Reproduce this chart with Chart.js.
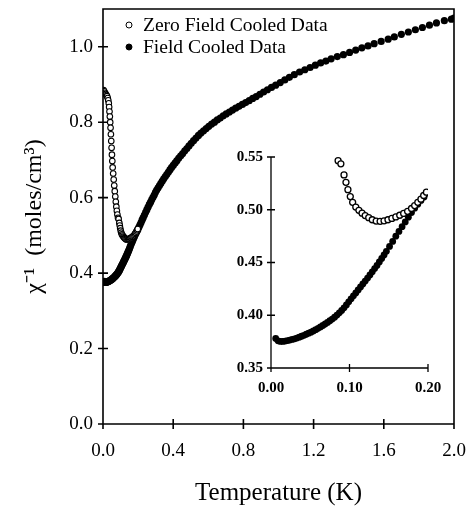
<!DOCTYPE html>
<html lang="en">
  <head>
    <meta charset="UTF-8" />
    <title>Inverse susceptibility vs temperature</title>
    <script src="https://cdn.jsdelivr.net/npm/chart.js"></script>
    <style>
      body { margin: 0; background: #fff; }
      #wrap { position: relative; width: 468px; height: 506px; }
      #mainChart { position: absolute; left: 0; top: 0; }
      #insetChart { position: absolute; left: 200px; top: 140px; }
    </style>
  </head>
  <body>
    <div id="wrap">
      <canvas id="mainChart" width="468" height="506"></canvas>
      <canvas id="insetChart" width="256" height="260"></canvas>
    </div>
    <script>
      const seriesLabels = ["Zero Field Cooled Data", "Field Cooled Data"];

      // [T (K), 1/chi]
      const zeroFieldCooled = [
        [0.003, 0.885], [0.007, 0.882], [0.011, 0.878], [0.015, 0.875], [0.019, 0.872],
        [0.023, 0.869], [0.027, 0.864], [0.030, 0.858], [0.033, 0.850], [0.035, 0.840],
        [0.037, 0.828], [0.039, 0.815], [0.041, 0.800], [0.043, 0.785], [0.045, 0.768],
        [0.047, 0.750], [0.049, 0.732], [0.051, 0.714], [0.053, 0.697], [0.055, 0.680],
        [0.058, 0.664], [0.061, 0.648], [0.064, 0.632], [0.067, 0.617], [0.070, 0.603],
        [0.073, 0.589], [0.076, 0.576], [0.079, 0.565], [0.082, 0.555], [0.0855, 0.5465],
        [0.089, 0.5435], [0.093, 0.533], [0.0955, 0.526], [0.098, 0.519], [0.101, 0.5125],
        [0.104, 0.507], [0.108, 0.5025], [0.112, 0.4995], [0.116, 0.4968], [0.120, 0.4945],
        [0.1245, 0.4925], [0.129, 0.4905], [0.134, 0.4893], [0.139, 0.489], [0.144, 0.4895],
        [0.149, 0.4905], [0.154, 0.4918], [0.159, 0.4932], [0.164, 0.4948], [0.169, 0.4965],
        [0.174, 0.4985], [0.179, 0.5012], [0.183, 0.504], [0.187, 0.507], [0.191, 0.51],
        [0.1945, 0.5135], [0.198, 0.5167]
      ];

      const fieldCooled = [
        [0.006, 0.378], [0.009, 0.3758], [0.012, 0.3752], [0.015, 0.3752], [0.018, 0.3755],
        [0.021, 0.376], [0.024, 0.3765], [0.027, 0.3771], [0.030, 0.3777], [0.033, 0.3784],
        [0.036, 0.3792], [0.039, 0.3801], [0.042, 0.381], [0.045, 0.382], [0.048, 0.383],
        [0.051, 0.384], [0.054, 0.3851], [0.057, 0.3863], [0.060, 0.3876], [0.063, 0.3889],
        [0.066, 0.3903], [0.069, 0.3917], [0.072, 0.3932], [0.075, 0.3948], [0.078, 0.3964],
        [0.081, 0.3982], [0.084, 0.4002], [0.087, 0.4023], [0.090, 0.4045], [0.093, 0.407],
        [0.096, 0.4098], [0.099, 0.4127], [0.102, 0.4156], [0.105, 0.4184], [0.108, 0.4212],
        [0.111, 0.424], [0.114, 0.4268], [0.117, 0.4296], [0.120, 0.4324], [0.123, 0.4352],
        [0.126, 0.4382], [0.129, 0.4412], [0.132, 0.4442], [0.135, 0.4472], [0.138, 0.4505],
        [0.141, 0.4538], [0.144, 0.4572], [0.147, 0.4606], [0.151, 0.4652], [0.155, 0.47],
        [0.159, 0.475], [0.163, 0.4795], [0.167, 0.484], [0.171, 0.4885], [0.175, 0.493],
        [0.179, 0.4973], [0.183, 0.5015], [0.187, 0.5052], [0.191, 0.5088], [0.195, 0.5122],
        [0.199, 0.5158], [0.205, 0.522], [0.211, 0.528], [0.217, 0.534], [0.223, 0.541],
        [0.229, 0.547], [0.236, 0.554], [0.243, 0.561], [0.250, 0.568], [0.257, 0.575],
        [0.264, 0.582], [0.271, 0.588], [0.278, 0.595], [0.285, 0.601], [0.292, 0.607],
        [0.299, 0.614], [0.306, 0.620], [0.314, 0.626], [0.322, 0.632], [0.330, 0.638],
        [0.338, 0.644], [0.346, 0.650], [0.355, 0.656], [0.364, 0.662], [0.373, 0.668],
        [0.382, 0.674], [0.391, 0.680], [0.401, 0.686], [0.411, 0.692], [0.421, 0.698],
        [0.432, 0.705], [0.443, 0.711], [0.454, 0.717], [0.466, 0.724], [0.478, 0.730],
        [0.490, 0.737], [0.503, 0.744], [0.516, 0.751], [0.530, 0.758], [0.544, 0.765],
        [0.558, 0.771], [0.573, 0.777], [0.588, 0.783], [0.603, 0.789], [0.619, 0.795],
        [0.635, 0.800], [0.651, 0.806], [0.668, 0.811], [0.685, 0.817], [0.702, 0.822],
        [0.720, 0.827], [0.738, 0.832], [0.756, 0.837], [0.775, 0.842], [0.794, 0.847],
        [0.813, 0.852], [0.833, 0.857], [0.853, 0.863], [0.873, 0.868], [0.894, 0.874],
        [0.915, 0.880], [0.937, 0.886], [0.960, 0.892], [0.984, 0.898], [1.010, 0.905],
        [1.036, 0.912], [1.062, 0.919], [1.090, 0.926], [1.120, 0.933], [1.150, 0.939],
        [1.180, 0.945], [1.210, 0.951], [1.240, 0.957], [1.270, 0.962], [1.300, 0.968],
        [1.335, 0.974], [1.370, 0.979], [1.405, 0.985], [1.440, 0.991], [1.475, 0.997],
        [1.510, 1.002], [1.545, 1.008], [1.585, 1.014], [1.625, 1.020], [1.660, 1.026],
        [1.700, 1.033], [1.740, 1.039], [1.780, 1.045], [1.820, 1.051], [1.860, 1.057],
        [1.900, 1.063], [1.945, 1.069], [1.985, 1.073], [2.000, 1.076]
      ];

      const mainXTicks = [0, 0.4, 0.8, 1.2, 1.6, 2.0];
      const mainYTicks = [0, 0.2, 0.4, 0.6, 0.8, 1.0];
      const insetXTicks = [0, 0.1, 0.2];
      const insetYTicks = [0.35, 0.4, 0.45, 0.5, 0.55];

      const serif = "'Liberation Serif', 'Times New Roman', serif";
      const toPoints = (rows) => rows.map(([x, y]) => ({ x, y }));

      // tick marks that cross the axis line, plus the axis lines themselves
      const crossTicks = {
        id: "crossTicks",
        afterDraw(chart, args, opts) {
          const { ctx, chartArea: a } = chart;
          const xs = chart.scales.x;
          const ys = chart.scales.y;
          ctx.save();
          ctx.strokeStyle = "#000";
          ctx.lineWidth = opts.width;
          ctx.beginPath();
          if (opts.box) {
            ctx.rect(a.left, a.top, a.right - a.left, a.bottom - a.top);
          } else {
            ctx.moveTo(a.left, a.top);
            ctx.lineTo(a.left, a.bottom);
            ctx.lineTo(a.right, a.bottom);
          }
          xs.ticks.forEach((t, i) => {
            const px = xs.getPixelForTick(i);
            ctx.moveTo(px, a.bottom - opts.len);
            ctx.lineTo(px, a.bottom + opts.len);
          });
          ys.ticks.forEach((t, i) => {
            const py = ys.getPixelForTick(i);
            ctx.moveTo(a.left - opts.len, py);
            ctx.lineTo(a.left + opts.len, py);
          });
          ctx.stroke();
          ctx.restore();
        },
      };

      const cornerLegend = {
        id: "cornerLegend",
        afterDraw(chart) {
          const ctx = chart.ctx;
          ctx.save();
          chart.data.datasets.forEach((ds, i) => {
            const y = 25 + i * 22;
            ctx.beginPath();
            ctx.arc(129, y, 3, 0, Math.PI * 2);
            ctx.fillStyle = ds.pointBackgroundColor;
            ctx.fill();
            ctx.lineWidth = 1;
            ctx.strokeStyle = "#000";
            ctx.stroke();
            ctx.fillStyle = "#000";
            ctx.font = "19.5px " + serif;
            ctx.textBaseline = "middle";
            ctx.fillText(ds.label, 143, y + 1);
          });
          ctx.restore();
        },
      };

      // size: fixed width (y) or height (x) of the axis box; no overflow padding
      function axis(min, max, ticks, fmt, fontOpts, pad, size) {
        return {
          type: "linear",
          min: min,
          max: max,
          afterBuildTicks: (s) => {
            s.ticks = ticks.map((v) => ({ value: v }));
          },
          afterFit: (s) => {
            if (s.isHorizontal()) s.height = size;
            else s.width = size;
            s.paddingLeft = 0;
            s.paddingRight = 0;
            s.paddingTop = 0;
            s.paddingBottom = 0;
          },
          grid: { display: false, drawTicks: false },
          border: { display: false },
          ticks: {
            padding: pad,
            color: "#000",
            font: fontOpts,
            callback: (v) => Number(v).toFixed(fmt),
          },
        };
      }

      const mainX = axis(0, 2, mainXTicks, 1, { family: serif, size: 19 }, 16, 82);
      mainX.title = {
        display: true,
        text: "Temperature (K)",
        color: "#000",
        font: { family: serif, size: 25, lineHeight: 1 },
        padding: { top: 0, bottom: 0 },
      };
      const mainY = axis(0, 1.1, mainYTicks, 1, { family: serif, size: 19 }, 10, 103);
      mainY.title = {
        display: true,
        text: "\u03C7\u207B\u00B9  (moles/cm\u00B3)",
        color: "#000",
        font: { family: serif, size: 24, lineHeight: 1 },
        padding: { top: 23, bottom: 0 },
      };

      new Chart(document.getElementById("mainChart"), {
        type: "scatter",
        data: {
          datasets: [
            {
              label: seriesLabels[0],
              data: toPoints(zeroFieldCooled),
              pointRadius: 2.8,
              pointBorderWidth: 1.1,
              pointBackgroundColor: "#fff",
              pointBorderColor: "#000",
            },
            {
              label: seriesLabels[1],
              data: toPoints(fieldCooled),
              pointRadius: 3.6,
              pointBorderWidth: 0,
              pointBackgroundColor: "#000",
              pointBorderColor: "#000",
            },
          ],
        },
        options: {
          responsive: false,
          animation: false,
          layout: { padding: { top: 9, right: 14, left: 0, bottom: 0 } },
          plugins: {
            legend: { display: false },
            tooltip: { enabled: false },
            crossTicks: { width: 1.6, len: 5, box: true },
          },
          scales: { x: mainX, y: mainY },
        },
        plugins: [crossTicks, cornerLegend],
      });

      const insetFont = { family: serif, size: 15, weight: "bold" };
      const inRange = (rows) => rows.filter(([x, y]) => x <= 0.2 && y <= 0.55);

      new Chart(document.getElementById("insetChart"), {
        type: "scatter",
        data: {
          datasets: [
            {
              label: seriesLabels[0],
              data: toPoints(inRange(zeroFieldCooled)),
              pointRadius: 3,
              pointBorderWidth: 1.3,
              pointBackgroundColor: "#fff",
              pointBorderColor: "#000",
            },
            {
              label: seriesLabels[1],
              data: toPoints(inRange(fieldCooled)),
              pointRadius: 3.4,
              pointBorderWidth: 0,
              pointBackgroundColor: "#000",
              pointBorderColor: "#000",
            },
          ],
        },
        options: {
          responsive: false,
          animation: false,
          layout: { padding: { top: 17, right: 28, left: 0, bottom: 0 } },
          plugins: {
            legend: { display: false },
            tooltip: { enabled: false },
            crossTicks: { width: 1.3, len: 4, box: false },
          },
          scales: {
            x: axis(0, 0.2, insetXTicks, 2, insetFont, 11, 32),
            y: axis(0.35, 0.55, insetYTicks, 2, insetFont, 8, 71),
          },
        },
        plugins: [crossTicks],
      });
    </script>
  </body>
</html>
